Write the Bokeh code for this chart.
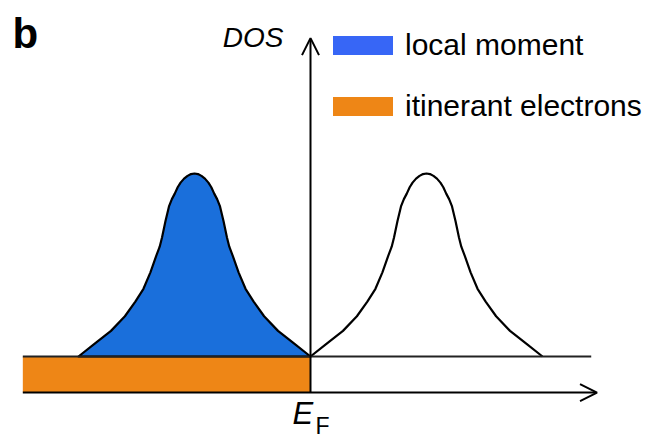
from bokeh.plotting import figure
from bokeh.models import Range1d, Arrow, OpenHead, Label, Legend, LegendItem
from bokeh.embed import file_html
from bokeh.resources import INLINE

# ---- data (energy in units of band half-width, E_F = 0; DOS normalised to peak) ----
E_F = 0.0
energy_min = -2.48          # left end of the energy axis / itinerant band
energy_axis_tip = 2.47      # arrow tip of energy axis
baseline_end = 2.42         # right end of the DOS = 0 baseline
dos_axis_top = 1.74         # tip of the DOS axis
itinerant_depth = -0.197    # itinerant (orange) band drawn below the baseline

# occupied local-moment band (below E_F, filled)
left_band_energy = [-2.00, -1.86, -1.72, -1.60, -1.51, -1.44, -1.38, -1.33, -1.30, -1.28,
                    -1.25, -1.22, -1.195, -1.17, -1.145, -1.12, -1.09, -1.06, -1.03, -1.00,
                    -0.97, -0.94, -0.91, -0.88, -0.855, -0.83, -0.805, -0.78, -0.75, -0.72,
                    -0.70, -0.67, -0.62, -0.56, -0.49, -0.40, -0.28, -0.14, 0.00]
left_band_dos = [0.00, 0.07, 0.14, 0.22, 0.30, 0.37, 0.46, 0.55, 0.60, 0.65,
                 0.74, 0.82, 0.86, 0.89, 0.925, 0.95, 0.972, 0.987, 0.997, 1.00,
                 0.997, 0.987, 0.972, 0.95, 0.925, 0.89, 0.86, 0.82, 0.74, 0.65,
                 0.60, 0.55, 0.46, 0.37, 0.30, 0.22, 0.14, 0.07, 0.00]

# empty local-moment band (above E_F, outline only)
right_band_energy = [0.00, 0.14, 0.28, 0.40, 0.49, 0.56, 0.62, 0.67, 0.70, 0.72,
                     0.75, 0.78, 0.805, 0.83, 0.855, 0.88, 0.91, 0.94, 0.97, 1.00,
                     1.03, 1.06, 1.09, 1.12, 1.145, 1.17, 1.195, 1.22, 1.25, 1.28,
                     1.30, 1.33, 1.38, 1.44, 1.51, 1.60, 1.72, 1.86, 2.00]
right_band_dos = [0.00, 0.07, 0.14, 0.22, 0.30, 0.37, 0.46, 0.55, 0.60, 0.65,
                  0.74, 0.82, 0.86, 0.89, 0.925, 0.95, 0.972, 0.987, 0.997, 1.00,
                  0.997, 0.987, 0.972, 0.95, 0.925, 0.89, 0.86, 0.82, 0.74, 0.65,
                  0.60, 0.55, 0.46, 0.37, 0.30, 0.22, 0.14, 0.07, 0.00]

legend_labels = ["local moment", "itinerant electrons"]
legend_colors = ["#3766F6", "#EE8616"]

FONT = "Liberation Sans"
NAN = float("nan")

p = figure(width=649, height=438, output_backend="svg", toolbar_location=None,
           x_range=Range1d(-2.6724, 2.9224), y_range=Range1d(-0.4481, 1.9454),
           x_axis_type=None, y_axis_type=None, min_border=0)
p.grid.visible = False
p.outline_line_color = None
p.background_fill_color = "white"

# itinerant electrons (filled up to E_F)
p.quad(left=[energy_min], right=[E_F], bottom=[itinerant_depth], top=[0.0],
       fill_color="#EE8616", line_color=None)

# occupied local-moment band
p.patch(left_band_energy, left_band_dos, fill_color="#1A6FDB", line_color="black",
        line_width=2.2, line_join="round")
# empty band
p.line(right_band_energy, right_band_dos, line_color="black", line_width=2.2, line_join="round")

# baseline (DOS = 0)
p.line([energy_min, baseline_end], [0.0, 0.0], line_color="#222222", line_width=2)

# axes with arrows
p.add_layout(Arrow(end=OpenHead(size=17, line_width=2, line_color="black"),
                   x_start=energy_min, y_start=itinerant_depth,
                   x_end=energy_axis_tip, y_end=itinerant_depth,
                   line_width=2, line_color="black"))
p.add_layout(Arrow(end=OpenHead(size=17, line_width=2, line_color="black"),
                   x_start=E_F, y_start=itinerant_depth,
                   x_end=E_F, y_end=dos_axis_top,
                   line_width=2, line_color="black"))

# legend (swatch renderers carry no visible data)
dummies = [p.quad(left=[NAN], right=[NAN], top=[NAN], bottom=[NAN],
                  fill_color=c, line_color=None) for c in legend_colors]
legend = Legend(items=[LegendItem(label=l, renderers=[r]) for l, r in zip(legend_labels, dummies)],
                location=(325, 314), orientation="vertical",
                glyph_width=75, glyph_height=24, label_height=36, spacing=25,
                padding=0, margin=0, label_standoff=5,
                label_text_font=FONT, label_text_font_size="30px",
                label_text_color="black",
                border_line_alpha=0, background_fill_alpha=0)
p.add_layout(legend)

# texts (anchored at their vertical middle)
p.add_layout(Label(x=-2.569, y=1.763, text="b", text_font=FONT, text_font_size="42px",
                   text_font_style="bold", text_baseline="middle", text_align="left",
                   text_color="black"))
p.add_layout(Label(x=-0.233, y=1.741, text="DOS", text_font=FONT, text_font_size="28px",
                   text_font_style="italic", text_baseline="middle", text_align="right",
                   text_color="black"))
p.add_layout(Label(x=-0.155, y=-0.313, text="E", text_font=FONT, text_font_size="31px",
                   text_font_style="italic", text_baseline="middle", text_align="left",
                   text_color="black"))
p.add_layout(Label(x=0.043, y=-0.3825, text="F", text_font=FONT, text_font_size="23px",
                   text_baseline="middle", text_align="left", text_color="black"))

open("out.html", "w").write(file_html(p, INLINE))
